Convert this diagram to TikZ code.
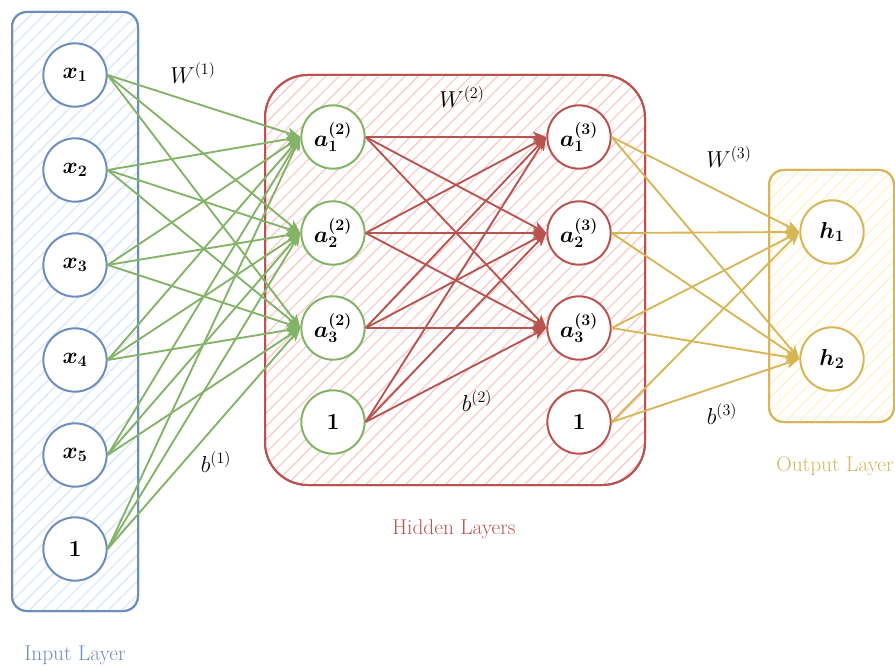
\documentclass[tikz,border=0pt]{standalone}
\usetikzlibrary{arrows.meta,patterns.meta}
\definecolor{cblue}{HTML}{6C8EBF}
\definecolor{fblue}{HTML}{DAE8FC}
\definecolor{cred}{HTML}{B85450}
\definecolor{fred}{HTML}{F8CECC}
\definecolor{cgreen}{HTML}{82B366}
\definecolor{cyel}{HTML}{D6B656}
\definecolor{fyel}{HTML}{FFF2CC}
\begin{document}
\begin{tikzpicture}[x=0.75pt,y=-0.75pt,
  neuron/.style={circle,draw,line width=1.5pt,fill=white,minimum size=47.5pt,inner sep=0pt,
    font=\fontsize{17}{20}\selectfont\boldmath},
  inode/.style={neuron,draw=cblue},
  gnode/.style={neuron,draw=cgreen},
  rnode/.style={neuron,draw=cred},
  ynode/.style={neuron,draw=cyel},
  layerbox/.style={line width=1.5pt},
  edge/.style={line width=1.4pt,-{Stealth[length=10pt,width=8pt,inset=2.5pt]}},
  lbl/.style={font=\fontsize{17.5}{20}\selectfont},
  captxt/.style={font=\fontsize{16}{19}\selectfont}
]
\useasboundingbox (0,0) rectangle (895,666);
% boxes
\draw[layerbox,draw=cblue,rounded corners=11pt,
  pattern={Lines[angle=45,distance=7pt,line width=1pt]},pattern color=fblue]
  (12,12) rectangle (138,611);
\draw[layerbox,draw=cblue,rounded corners=11pt] (12,12) rectangle (138,611);
\draw[layerbox,draw=cred,rounded corners=32pt,
  pattern={Lines[angle=45,distance=7pt,line width=1pt]},pattern color=fred]
  (265,75) rectangle (645,485);
\draw[layerbox,draw=cred,rounded corners=32pt] (265,75) rectangle (645,485);
\draw[layerbox,draw=cyel,rounded corners=11pt,
  pattern={Lines[angle=45,distance=7pt,line width=1pt]},pattern color=fyel]
  (769,170) rectangle (894,422);
\draw[layerbox,draw=cyel,rounded corners=11pt] (769,170) rectangle (894,422);
% input nodes
\node[inode] (x1) at (75,75) {$x_1$};
\node[inode] (x2) at (75,170) {$x_2$};
\node[inode] (x3) at (75,265) {$x_3$};
\node[inode] (x4) at (75,360) {$x_4$};
\node[inode] (x5) at (75,455) {$x_5$};
\node[inode] (x0) at (75,549) {$1$};
% hidden 1
\node[gnode] (a1) at (333,137) {$a^{(2)}_1$};
\node[gnode] (a2) at (333,233) {$a^{(2)}_2$};
\node[gnode] (a3) at (333,328) {$a^{(2)}_3$};
\node[gnode] (a0) at (333,422) {$1$};
% hidden 2
\node[rnode] (b1) at (579,137) {$a^{(3)}_1$};
\node[rnode] (b2) at (579,233) {$a^{(3)}_2$};
\node[rnode] (b3) at (579,328) {$a^{(3)}_3$};
\node[rnode] (b0) at (579,422) {$1$};
% output
\node[ynode] (h1) at (832,232) {$h_1$};
\node[ynode] (h2) at (832,359) {$h_2$};
% edges
\foreach \s in {x1,x2,x3,x4,x5,x0}
  \foreach \t in {a1,a2,a3}
    \draw[edge,draw=cgreen,fill=cgreen] (\s.east) -- (\t.west);
\foreach \s in {a1,a2,a3,a0}
  \foreach \t in {b1,b2,b3}
    \draw[edge,draw=cred,fill=cred] (\s.east) -- (\t.west);
\foreach \s in {b1,b2,b3,b0}
  \foreach \t in {h1,h2}
    \draw[edge,draw=cyel,fill=cyel] (\s.east) -- (\t.west);
% labels
\node[lbl] (w1) at (193,73) {$W^{(1)}$};
\node[lbl] (w2) at (462,97) {$W^{(2)}$};
\node[lbl] (w3) at (729,157) {$W^{(3)}$};
\node[lbl] (bb1) at (216,462) {$b^{(1)}$};
\node[lbl] (bb2) at (477,401) {$b^{(2)}$};
\node[lbl] (bb3) at (722,414) {$b^{(3)}$};
\node[captxt,text=cred] (hl) at (454,529) {Hidden Layers};
\node[captxt,text=cblue] (il) at (75,655) {Input Layer};
\node[captxt,text=cyel] (ol) at (835,466) {Output Layer};
\end{tikzpicture}
\end{document}
